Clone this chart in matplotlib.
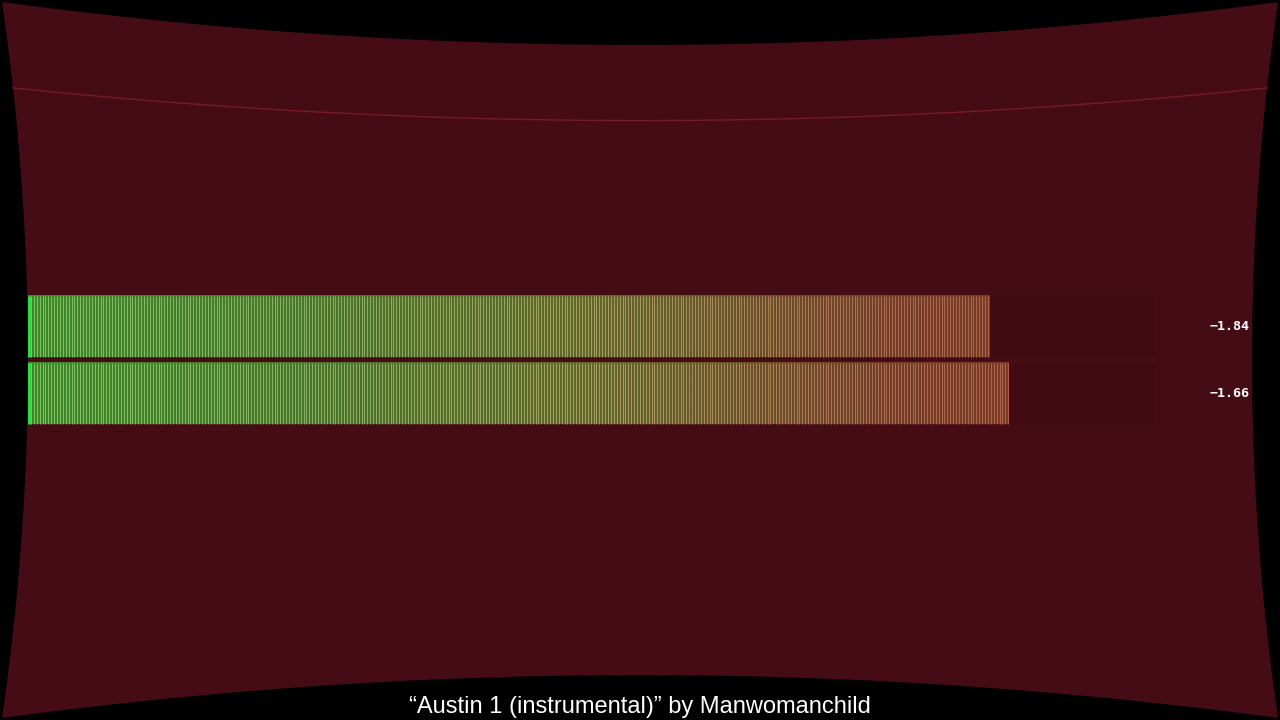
import numpy as np
import matplotlib
matplotlib.use("Agg")
import matplotlib.pyplot as plt
from matplotlib.patches import Polygon
from matplotlib.colors import LinearSegmentedColormap
from matplotlib.transforms import blended_transform_factory

# meter data (dB), one bar per channel
channels = [0, 1]
levels = [-1.84, -1.66]
level_labels = ["-1.84", "-1.66"]
scale_min, scale_max = -11.0, 0.0
track_end = -0.27
caption = "\u201cAustin 1 (instrumental)\u201d by Manwomanchild"

W, H = 1280, 720
fig = plt.figure(figsize=(12.8, 7.2), dpi=100, facecolor="black")


def warp(X, Y):
    # pincushion look of the screen, X/Y in [-1, 1]
    px = 640 + 638 * X - 26 * X * (1 - Y ** 2)
    py = 360 + 358 * Y - 43 * Y * (1 - X ** 2)
    return px / W, 1 - py / H


t = np.linspace(-1, 1, 200)
one = np.ones_like(t)
edge = [warp(t, -one), warp(one, t), warp(t[::-1], one), warp(-one, t[::-1])]
xs = np.concatenate([e[0] for e in edge])
ys = np.concatenate([e[1] for e in edge])
fig.add_artist(Polygon(np.column_stack([xs, ys]), closed=True, facecolor="#460c16",
                       edgecolor="none", transform=fig.transFigure, zorder=-2))
lx, ly = warp(t, -0.76 * one)
fig.add_artist(plt.Line2D(lx, ly, color="#761b28", lw=1.0, transform=fig.transFigure, zorder=-1))

# meter axes: -11 dB at px 28, 105 px per dB
ax = fig.add_axes([28 / W, 1 - 427 / H, 1155 / W, 134 / H])
ax.set_xlim(scale_min, scale_max)
ax.set_ylim(1.5, -0.5)
ax.set_facecolor("none")
ax.axis("off")

base_cmap = LinearSegmentedColormap.from_list(
    "base", ["#3c8a26", "#4a7628", "#62662a", "#723e2a", "#803826"])
line_cmap = LinearSegmentedColormap.from_list(
    "lines", ["#84c06a", "#88ae6a", "#a89e60", "#b06a4e", "#b85c3a"])
norm = plt.Normalize(scale_min, scale_max)
bar_h = 0.925
step = 2.9 / 105

for ch, lev in zip(channels, levels):
    y0, y1 = ch - bar_h / 2, ch + bar_h / 2
    ax.barh(ch, track_end - scale_min, left=scale_min, height=bar_h, color="#420b14", zorder=1)
    grad = np.linspace(scale_min, lev, 400)[None, :]
    ax.imshow(base_cmap(norm(grad)), extent=(scale_min, lev, y1, y0), aspect="auto",
              interpolation="bilinear", zorder=2)
    pos = np.arange(scale_min + step, lev, step)
    ax.vlines(pos, y0, y1, colors=line_cmap(norm(pos)), lw=0.7, zorder=3)
    ax.vlines(scale_min + 0.01, y0, y1, colors="#2ee040", lw=2, zorder=4)

ax.set_xlim(scale_min, scale_max)
ax.set_ylim(1.5, -0.5)

tr = blended_transform_factory(fig.transFigure, ax.transData)
for ch, lab in zip(channels, level_labels):
    ax.text(1250 / W, ch, lab.replace("-", "\u2212"), transform=tr, ha="right", va="center",
            color="white", fontsize=9.5, fontweight="bold", family="DejaVu Sans Mono")

fig.text(0.5, 1 - 707 / H, caption, ha="center", va="center", color="white",
         fontsize=17, family="Liberation Sans")

fig.savefig("out.png", dpi=100, facecolor="black")
